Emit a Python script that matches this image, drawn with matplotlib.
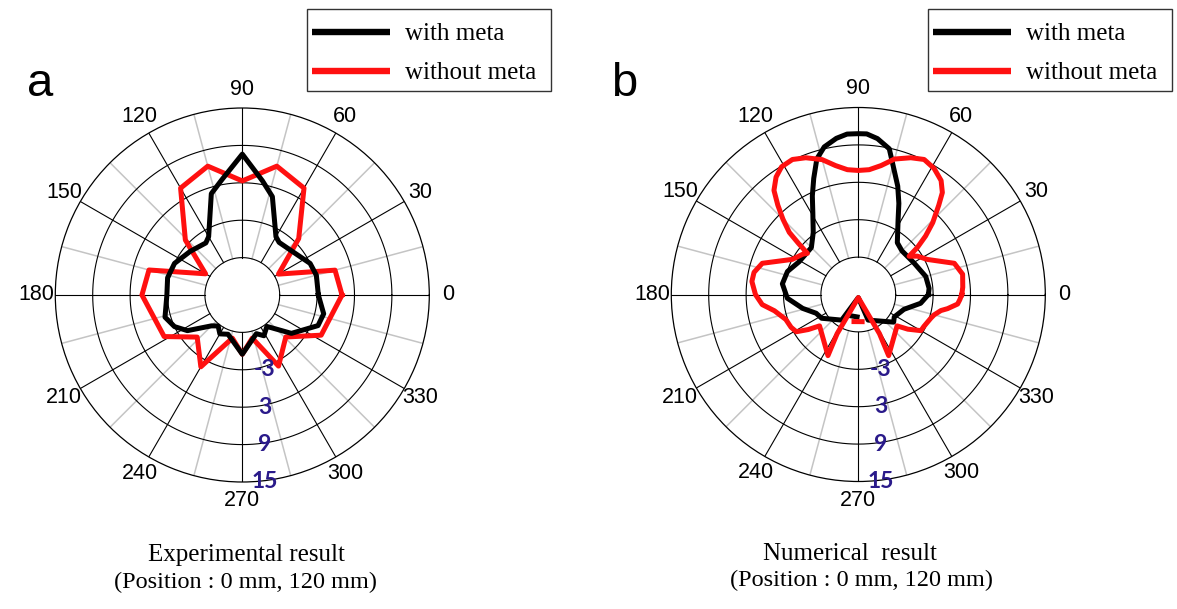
import numpy as np
import matplotlib
matplotlib.use("Agg")
import matplotlib.pyplot as plt
from matplotlib.lines import Line2D
from matplotlib.patches import Rectangle

# ---------------- data ----------------
# (a) Experimental result
theta_a_with = [0, 15, 25, 40, 55, 60, 73, 80, 90, 100, 107, 120, 125, 140, 155, 167, 180,
                196, 205, 213, 225, 232, 240, 250, 270, 290, 298, 308, 322, 338, 347, 360]
db_a_with = [-2.8, -2.7, -3.0, -4.3, -4.7, -4.2, 1.5, 3.6, 7.6, 3.8, 2.0, -4.2, -4.8, -4.1, -3.0, -2.7, -2.9,
             -2.1, -3.0, -4.5, -8.0, -8.7, -7.8, -8.3, -5.5, -8.4, -7.6, -8.6, -5.0, -1.9, -1.6, -2.8]

theta_a_without = [0, 15, 30, 45, 60, 75, 90, 105, 120, 136, 150, 165, 180,
                   208, 223, 240, 257, 270, 283, 297, 316, 333, 360]
db_a_without = [1.0, 0.4, -8.3, -2.2, 4.8, 6.4, 3.3, 6.4, 4.8, -2.3, -8.2, 0.5, 1.1,
                -0.8, -5.1, -1.7, -7.9, -5.5, -7.9, -2.2, -5.3, -0.8, 1.0]

# (b) Numerical result
theta_b_with = [0, 5, 15, 30, 45, 53, 62, 66, 70, 75, 78, 83, 87, 90, 94, 98, 103, 107, 111, 115,
                119, 126, 135, 151, 162, 172, 183, 194, 204, 213, 237, 270, 291, 322, 328, 342, 352, 360]
db_b_with = [-3.75, -3.6, -3.8, -4.75, -5.1, -4.6, -1.4, 1.0, 3.5, 6.5, 8.9, 10.2, 10.8, 10.8, 10.8, 10.3,
             9.3, 7.75, 4.95, 2.45, 0.05, -2.7, -4.35, -4.15, -3.05, -2.7, -3.6, -5.8, -7.6, -8.0,
             -10.1, -14.5, -10.6, -7.8, -8.2, -7.3, -4.9, -3.75]

theta_b_without = [0, 4, 11, 18, 27, 33, 37, 38.5, 41, 44, 48, 50.5, 54, 59, 64, 69, 75, 80, 85, 90,
                   95, 100, 105, 111, 116, 121, 125, 129, 132, 135, 138, 139.5, 141, 144, 152, 162,
                   168, 173, 180, 186, 191, 199, 206, 211, 215, 219, 243.6, 241.6, 270, 298.4, 296.4,
                   321, 325, 330, 334, 342, 345, 349, 351, 354.5, 357, 360]
db_b_without = [1.6, 1.8, 2.05, 1.2, -2.6, -3.7, -4.8, -2.9, -0.7, 1.6, 4.3, 6.2, 7.6, 8.6, 9.1, 8.5,
                7.5, 6.0, 5.1, 4.9, 5.1, 6.0, 7.4, 8.5, 9.1, 8.9, 8.0, 6.5, 4.3, 2.1, -0.1, -2.4,
                -4.5, -4.0, -3.0, 1.2, 2.1, 2.2, 1.5, 0.5, -1.3, -2.7, -3.0, -3.4, -5.2, -7.0,
                -4.05, -7.85, -14.5, -7.85, -4.05, -7.0, -5.3, -3.4, -3.3, -2.75, -2.4, -1.5,
                -0.5, 1.0, 1.3, 1.6]

# small fragments near the origin of (b)
theta_b_with_frag = [253, 267]
db_b_with_frag = [-11.4, -11.4]
theta_b_without_frag = [261, 278]
db_b_without_frag = [-10.6, -10.6]

ring_values = [-9, -3, 3, 9]
r_min, r_max = -15, 15
radial_labels = ["-3", "3", "9", "15"]
radial_label_values = [-3, 3, 9, 15]
angle_ticks = list(range(0, 360, 30))
minor_angle_ticks = list(range(15, 360, 30))
legend_labels = ["with meta", "without meta"]
captions_a = ["Experimental result", "(Position : 0 mm, 120 mm)"]
captions_b = ["Numerical  result", "(Position : 0 mm, 120 mm)"]

# ---------------- figure ----------------
W, H = 1177, 609
fig = plt.figure(figsize=(W / 100, H / 100), dpi=100)
fig.patch.set_facecolor("white")

SANS = ["Liberation Sans", "DejaVu Sans"]
SERIF = ["Liberation Serif", "DejaVu Serif"]
LBL_COLOR = "#2a1a8a"
RED = "#ff1010"


def fx(px):
    return px / W


def fy(py):
    return 1 - py / H


def make_polar(cx, cy, R):
    ax = fig.add_axes([(cx - R) / W, (H - cy - R) / H, 2 * R / W, 2 * R / H], projection="polar")
    ax.set_ylim(r_min, r_max)
    ax.grid(False)
    ax.set_xticks([])
    ax.set_yticks([])
    ax.spines["polar"].set_linewidth(0.9)
    ax.spines["polar"].set_color("black")
    th = np.linspace(0, 2 * np.pi, 721)
    for v in ring_values:
        ax.plot(th, np.full_like(th, v), color="black", lw=0.8, zorder=1)
    for a in minor_angle_ticks:
        t = np.deg2rad(a)
        ax.plot([t, t], [ring_values[0], r_max], color="#c4c4c4", lw=1.1, zorder=0.9)
    for a in angle_ticks:
        t = np.deg2rad(a)
        ax.plot([t, t], [ring_values[0], r_max], color="black", lw=0.8, zorder=1)
        ax.text(t, 18.0, str(a), ha="center", va="center", fontsize=15.5,
                family=SANS, clip_on=False)
    for lab, v in zip(radial_labels, radial_label_values):
        ax.annotate(lab, xy=(np.deg2rad(270), v), xytext=(16, 0), textcoords="offset points",
                    ha="center", va="center", fontsize=16.5, fontweight="bold",
                    family=["Lato", "DejaVu Sans"], color=LBL_COLOR, zorder=6,
                    annotation_clip=False)
    return ax


lw = 3.6
ax_a = make_polar(242.3, 295, 187)
ax_a.plot(np.deg2rad(theta_a_without), db_a_without, color=RED, lw=lw, zorder=3)
ax_a.plot(np.deg2rad(theta_a_with), db_a_with, color="black", lw=lw, zorder=4)

ax_b = make_polar(858.3, 294.5, 187)
ax_b.plot(np.deg2rad(theta_b_with), db_b_with, color="black", lw=lw, zorder=3)
ax_b.plot(np.deg2rad(theta_b_with_frag), db_b_with_frag, color="black", lw=lw, zorder=3)
ax_b.plot(np.deg2rad(theta_b_without), db_b_without, color=RED, lw=lw, zorder=4)
ax_b.plot(np.deg2rad(theta_b_without_frag), db_b_without_frag, color=RED, lw=lw, zorder=4)


# legends (drawn as figure artists)
def draw_legend(x0, x1, y0, y1):
    fig.add_artist(Rectangle((fx(x0), fy(y1)), fx(x1) - fx(x0), fy(y0) - fy(y1),
                             transform=fig.transFigure, facecolor="white",
                             edgecolor="#333333", lw=1.0))
    for i, (lab, col) in enumerate(zip(legend_labels, ["black", RED])):
        ly = y0 + 22.7 + 39.3 * i
        fig.add_artist(Line2D([fx(x0 + 4.5), fx(x0 + 83)], [fy(ly), fy(ly)],
                              transform=fig.transFigure, color=col, lw=4.6,
                              solid_capstyle="butt"))
        fig.text(fx(x0 + 97.5), fy(ly + 8.3), lab, fontsize=18, family=SERIF,
                 ha="left", va="baseline")


draw_legend(307.3, 551, 9, 90.7)
draw_legend(928, 1172, 9, 90.7)

# panel labels
fig.text(fx(40.5), fy(96.5), "a", fontsize=34, family=SANS, ha="center", va="baseline")
fig.text(fx(624), fy(95.5), "b", fontsize=34, family=SANS, ha="center", va="baseline")

# captions
fig.text(fx(246), fy(561.5), captions_a[0], fontsize=18, family=SERIF, ha="center", va="baseline")
fig.text(fx(246), fy(588), captions_a[1], fontsize=17.5, family=SERIF, ha="center", va="baseline")
fig.text(fx(850), fy(559.5), captions_b[0], fontsize=18, family=SERIF, ha="center", va="baseline")
fig.text(fx(862), fy(586), captions_b[1], fontsize=17.5, family=SERIF, ha="center", va="baseline")

fig.savefig("out.png", dpi=100, facecolor="white")
